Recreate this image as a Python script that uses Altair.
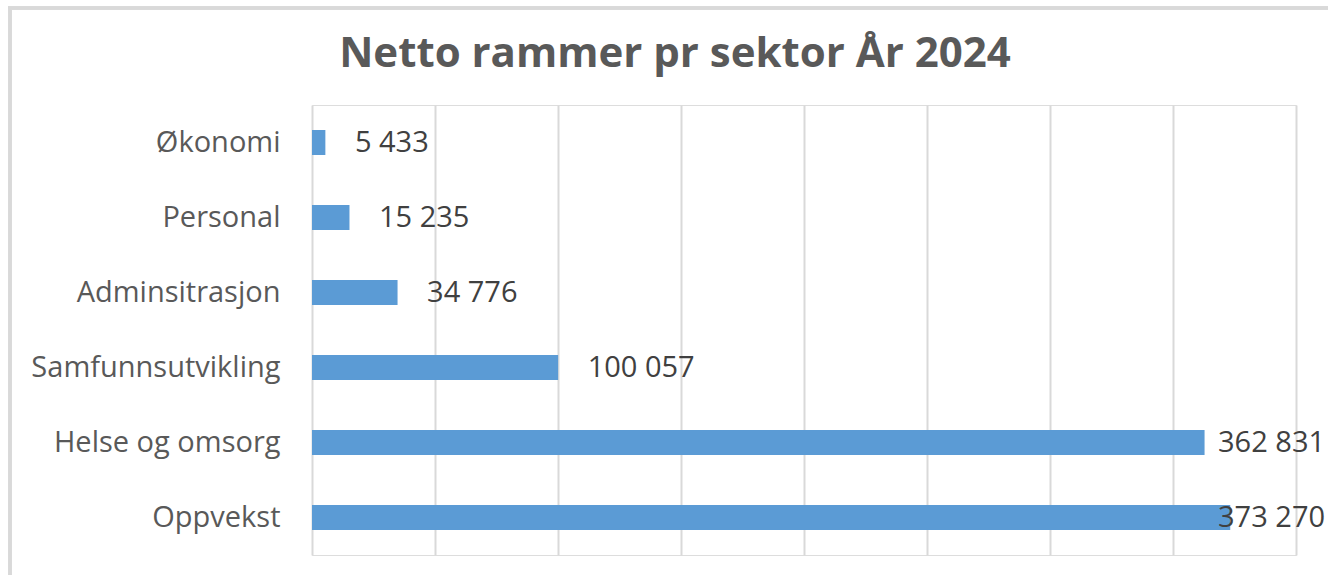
import altair as alt
import pandas as pd

sectors = ["Økonomi", "Personal", "Adminsitrasjon", "Samfunnsutvikling", "Helse og omsorg", "Oppvekst"]
values = [5433, 15235, 34776, 100057, 362831, 373270]
labels = ["5 433", "15 235", "34 776", "100 057", "362 831", "373 270"]
grid_values = [0, 50000, 100000, 150000, 200000, 250000, 300000, 350000, 400000]
title_text = "Netto rammer pr sektor År 2024"

df = pd.DataFrame({"sector": sectors, "value": values, "label": labels})

FONT = "Open Sans"

y_enc = alt.Y("sector:N", sort=sectors, title=None,
              axis=alt.Axis(domain=False, ticks=False, labelPadding=32, labelLimit=0,
                            labelFontSize=29, labelFont=FONT, labelColor="#595959",
                            grid=False))
x_scale = alt.Scale(domain=[0, 400000], nice=False)

bars = alt.Chart(df).mark_bar(size=25, color="#5B9BD5").encode(
    y=y_enc,
    x=alt.X("value:Q", scale=x_scale, title=None,
            axis=alt.Axis(values=grid_values, labels=False, ticks=False, domain=False,
                          grid=True, gridColor="#D9D9D9", gridWidth=2)),
)

text = alt.Chart(df).transform_calculate(
    lx="min(datum.value + 12000, 368300)"
).mark_text(align="left", baseline="middle", font=FONT, fontSize=29, color="#404040").encode(
    y=alt.Y("sector:N", sort=sectors),
    x=alt.X("lx:Q", scale=x_scale),
    text="label:N",
)

frame_top = alt.Chart(df).mark_rule(stroke="#D9D9D9", strokeWidth=3).encode(
    x=alt.value(-304), x2=alt.value(1016), y=alt.value(-97)
)
frame_left = alt.Chart(df).mark_rule(stroke="#D9D9D9", strokeWidth=3).encode(
    x=alt.value(-302), y=alt.value(-97), y2=alt.value(476)
)

title = alt.Chart(pd.DataFrame({"t": [title_text]})).mark_text(
    font=FONT, fontSize=42, fontWeight="bold", color="#595959",
    align="center", baseline="middle"
).encode(x=alt.value(363), y=alt.value(-51), text="t:N")

chart = alt.layer(frame_top, frame_left, bars, text, title).properties(
    width=984, height=450,
    autosize=alt.AutoSizeParams(type="none"),
    padding={"left": 312, "top": 105, "right": 32, "bottom": 20},
).configure_view(stroke=None).configure(background="white")

chart.save("out.html", embed_options={"renderer": "svg", "actions": False})
